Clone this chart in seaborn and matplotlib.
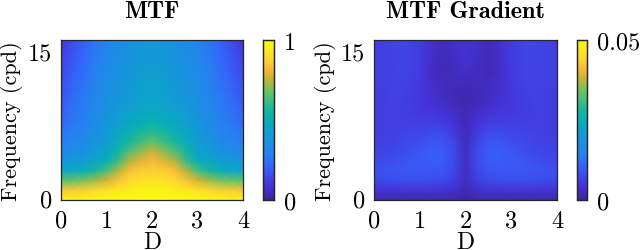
import pandas as pd
import matplotlib
matplotlib.use("Agg")
import matplotlib.pyplot as plt
import seaborn as sns
from matplotlib.colors import LinearSegmentedColormap

d_labels = [0, 0.25, 0.5, 0.75, 1, 1.25, 1.5, 1.75, 2, 2.25, 2.5, 2.75, 3, 3.25, 3.5, 3.75, 4]
freq_labels = list(range(18))

# rows go from 0 cpd upward, columns from D=0 to D=4
mtf_rows = [
    [.98, .98, .99, .99, 1.0, 1.0, 1.0, 1.0, 1.0, 1.0, 1.0, 1.0, 1.0, .99, .99, .98, .98],
    [.85, .86, .87, .89, .92, .94, .96, .97, .98, .97, .96, .94, .92, .89, .87, .86, .85],
    [.66, .67, .69, .73, .78, .84, .89, .92, .93, .92, .89, .84, .78, .73, .69, .67, .66],
    [.45, .47, .50, .56, .63, .74, .83, .86, .87, .86, .83, .74, .63, .56, .50, .47, .45],
    [.38, .40, .42, .45, .49, .61, .74, .79, .82, .79, .74, .61, .49, .45, .42, .40, .38],
    [.32, .34, .37, .41, .45, .54, .64, .71, .76, .71, .64, .54, .45, .41, .37, .34, .32],
    [.28, .31, .33, .38, .42, .49, .56, .62, .66, .62, .56, .49, .42, .38, .33, .31, .28],
    [.25, .28, .31, .35, .40, .46, .50, .55, .58, .55, .50, .46, .40, .35, .31, .28, .25],
    [.22, .26, .29, .34, .39, .43, .46, .49, .51, .49, .46, .43, .39, .34, .29, .26, .22],
    [.20, .25, .28, .33, .37, .41, .44, .46, .48, .46, .44, .41, .37, .33, .28, .25, .20],
    [.18, .24, .27, .32, .36, .39, .42, .44, .46, .44, .42, .39, .36, .32, .27, .24, .18],
    [.17, .23, .26, .31, .35, .38, .41, .43, .45, .43, .41, .38, .35, .31, .26, .23, .17],
    [.16, .21, .25, .30, .34, .37, .40, .42, .44, .42, .40, .37, .34, .30, .25, .21, .16],
    [.14, .20, .24, .29, .33, .36, .39, .41, .43, .41, .39, .36, .33, .29, .24, .20, .14],
    [.13, .19, .23, .28, .32, .35, .38, .40, .42, .40, .38, .35, .32, .28, .23, .19, .13],
    [.12, .17, .22, .27, .31, .34, .37, .39, .41, .39, .37, .34, .31, .27, .22, .17, .12],
    [.10, .16, .21, .26, .30, .33, .36, .38, .40, .38, .36, .33, .30, .26, .21, .16, .10],
    [.09, .15, .20, .25, .29, .32, .35, .37, .39, .37, .35, .32, .29, .25, .20, .15, .09],
]

grad_rows = [
    [.0012, .0012, .0012, .0012, .0012, .0012, .0012, .0012, .0008, .0012, .0012, .0012, .0012, .0012, .0012, .0012, .0012],
    [.0042, .0042, .0043, .0043, .0043, .0043, .0042, .0034, .0018, .0034, .0042, .0043, .0043, .0043, .0043, .0042, .0042],
    [.0072, .0075, .0078, .0078, .0078, .0078, .0074, .0060, .0026, .0060, .0074, .0078, .0078, .0078, .0078, .0075, .0072],
    [.0082, .0084, .0088, .0090, .0090, .0090, .0086, .0070, .0028, .0070, .0086, .0090, .0090, .0090, .0088, .0084, .0082],
    [.0074, .0078, .0082, .0088, .0092, .0096, .0094, .0074, .0028, .0074, .0094, .0096, .0092, .0088, .0082, .0078, .0074],
    [.0066, .0068, .0074, .0080, .0090, .0096, .0096, .0074, .0026, .0074, .0096, .0096, .0090, .0080, .0074, .0068, .0066],
    [.0062, .0064, .0068, .0074, .0080, .0086, .0086, .0066, .0024, .0066, .0086, .0086, .0080, .0074, .0068, .0064, .0062],
    [.0060, .0062, .0064, .0066, .0068, .0074, .0072, .0054, .0022, .0054, .0072, .0074, .0068, .0066, .0064, .0062, .0060],
    [.0060, .0062, .0062, .0062, .0060, .0060, .0058, .0044, .0020, .0044, .0058, .0060, .0060, .0062, .0062, .0062, .0060],
    [.0060, .0062, .0062, .0058, .0052, .0050, .0042, .0032, .0018, .0032, .0042, .0050, .0052, .0058, .0062, .0062, .0060],
    [.0060, .0062, .0064, .0058, .0050, .0042, .0032, .0022, .0015, .0022, .0032, .0042, .0050, .0058, .0064, .0062, .0060],
    [.0060, .0062, .0066, .0062, .0052, .0038, .0028, .0020, .0015, .0020, .0028, .0038, .0052, .0062, .0066, .0062, .0060],
    [.0062, .0064, .0066, .0064, .0054, .0036, .0026, .0022, .0022, .0022, .0026, .0036, .0054, .0064, .0066, .0064, .0062],
    [.0062, .0064, .0066, .0066, .0054, .0032, .0020, .0026, .0032, .0026, .0020, .0032, .0054, .0066, .0066, .0064, .0062],
    [.0062, .0064, .0066, .0066, .0056, .0032, .0020, .0030, .0038, .0030, .0020, .0032, .0056, .0066, .0066, .0064, .0062],
    [.0062, .0064, .0066, .0066, .0058, .0034, .0022, .0032, .0040, .0032, .0022, .0034, .0058, .0066, .0066, .0064, .0062],
    [.0062, .0064, .0066, .0066, .0058, .0038, .0026, .0034, .0040, .0034, .0026, .0038, .0058, .0066, .0066, .0064, .0062],
    [.0062, .0064, .0066, .0066, .0058, .0038, .0026, .0034, .0040, .0034, .0026, .0038, .0058, .0066, .0066, .0064, .0062],
]

parula_colors = [
    (0.00, (0.24, 0.14, 0.62)),
    (0.09, (0.27, 0.20, 0.85)),
    (0.20, (0.22, 0.37, 0.98)),
    (0.28, (0.15, 0.50, 0.95)),
    (0.40, (0.08, 0.60, 0.85)),
    (0.49, (0.03, 0.68, 0.73)),
    (0.57, (0.10, 0.72, 0.60)),
    (0.68, (0.42, 0.76, 0.40)),
    (0.76, (0.78, 0.70, 0.20)),
    (0.82, (0.98, 0.72, 0.22)),
    (0.89, (0.99, 0.85, 0.20)),
    (1.00, (0.98, 0.98, 0.05)),
]
parula = LinearSegmentedColormap.from_list("parula", parula_colors)

sns.set_theme(style="white")
plt.rcParams["font.family"] = ["cmr10"]
plt.rcParams["axes.formatter.use_mathtext"] = True
plt.rcParams["text.color"] = "black"
plt.rcParams["axes.labelcolor"] = "black"
plt.rcParams["xtick.labelcolor"] = "black"
plt.rcParams["ytick.labelcolor"] = "black"

W, H = 640, 251
fig = plt.figure(figsize=(W / 100, H / 100), dpi=100)


def box(x0, y0, x1, y1):
    return [x0 / W, 1 - y1 / H, (x1 - x0) / W, (y1 - y0) / H]


def panel(rows, vmax, cbar_labels, title, ax_px, cbar_px, ylab_x):
    ax = fig.add_axes(box(*ax_px))
    cax = fig.add_axes(box(*cbar_px))
    df = pd.DataFrame(rows, index=freq_labels, columns=d_labels)
    sns.heatmap(df, ax=ax, cbar_ax=cax, cmap=parula, vmin=0, vmax=vmax,
                shading="gouraud", rasterized=True)
    ax.set_xlim(0, len(d_labels) - 1)
    ax.set_ylim(0, 16.33)
    ax.set_xticks([d_labels.index(v) for v in [0, 1, 2, 3, 4]])
    ax.set_xticklabels(["0", "1", "2", "3", "4"], rotation=0)
    ax.set_yticks([0, 15])
    ax.set_yticklabels(["0", "15"], rotation=0)
    ax.tick_params(direction="in", length=7, width=0.7, color="#808080",
                   top=True, right=True, bottom=True, left=True,
                   labelsize=17.5)
    ax.tick_params(axis="x", pad=7)
    ax.tick_params(axis="y", pad=6)
    ax.set_xlabel("D", fontsize=17)
    ax.xaxis.set_label_coords(0.5, -0.19)
    ax.set_ylabel("Frequency (cpd)", fontsize=16)
    ax.yaxis.set_label_coords(ylab_x, 0.5)
    ax.set_title(title, fontsize=17.5, family="cmb10", pad=16.5)
    for s in ax.spines.values():
        s.set_visible(True)
        s.set_linewidth(0.9)
        s.set_color("#262626")
    cax.set_yticks([0, vmax])
    cax.set_yticklabels(cbar_labels)
    cax.tick_params(length=0, labelsize=17.5, pad=7.5)
    for s in cax.spines.values():
        s.set_visible(True)
        s.set_linewidth(0.9)
        s.set_color("#262626")


panel(mtf_rows, 1, ["0", "1"], "MTF", (61, 41, 243, 201), (263, 41, 274, 201), -0.21)
panel(grad_rows, 0.05, ["0", "0.05"], "MTF Gradient", (374, 41, 557, 201), (577, 41, 587, 201), -0.2)

fig.savefig("out.png", dpi=100)
